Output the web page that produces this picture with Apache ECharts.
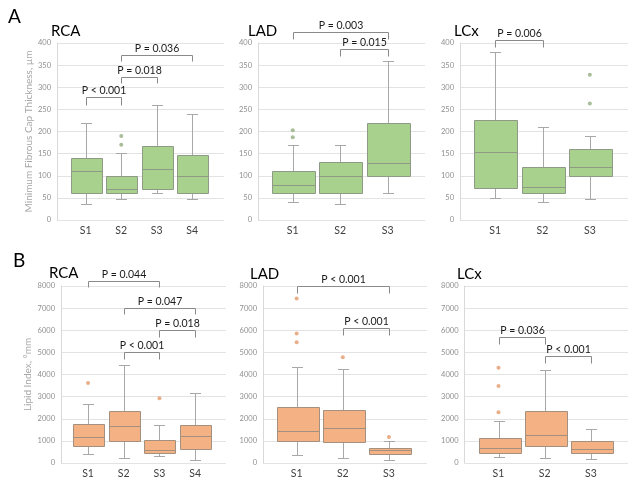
<!DOCTYPE html>
<html>
<head>
<meta charset="utf-8">
<script src="https://cdn.jsdelivr.net/npm/echarts@6/dist/echarts.min.js"></script>
<style>html,body{margin:0;padding:0;background:#fff;}#c{width:640px;height:484px;}</style>
</head>
<body>
<div id="c"></div>
<script>
// ---------- DATA ----------
const catsRCA = ['S1', 'S2', 'S3', 'S4'];
const catsLAD = ['S1', 'S2', 'S3'];
const catsLCx = ['S1', 'S2', 'S3'];
const fctTicks = [0, 50, 100, 150, 200, 250, 300, 350, 400];
const lipidTicks = [0, 1000, 2000, 3000, 4000, 5000, 6000, 7000, 8000];

// box: [min, Q1, median, Q3, max]
const fctRCA = [[36, 60, 110, 140, 220], [47, 60, 70, 100, 152], [60, 70, 115, 167, 260], [47, 60, 100, 148, 240]];
const fctRCAOut = [[1, 170], [1, 190]];
const fctLAD = [[40, 60, 80, 110, 170], [36, 60, 100, 131, 170], [60, 100, 128, 219, 360]];
const fctLADOut = [[0, 187], [0, 203]];
const fctLCx = [[49, 73, 153, 225, 380], [40, 60, 75, 120, 210], [47, 100, 120, 160, 190]];
const fctLCxOut = [[2, 263], [2, 328]];

const lipRCA = [[390, 785, 1180, 1780, 2680], [245, 995, 1690, 2350, 4420], [330, 450, 575, 1055, 1735], [120, 650, 1205, 1735, 3165]];
const lipRCAOut = [[0, 3620], [2, 2925]];
const lipLAD = [[350, 980, 1430, 2530, 4340], [245, 950, 1580, 2380, 4250], [120, 420, 575, 695, 980]];
const lipLADOut = [[0, 5460], [0, 5850], [0, 7430], [1, 4780], [2, 1180]];
const lipLCx = [[270, 450, 695, 1130, 1885], [245, 755, 1250, 2335, 4190], [180, 450, 650, 995, 1540]];
const lipLCxOut = [[0, 2290], [0, 3480], [0, 4310]];

// brackets: [fromIndex, toIndex, lineValue, tickEndValue, label]
const fctRCABr = [[0, 1, 277, 260, 'P < 0.001'], [1, 2, 324, 309, 'P = 0.018'], [1, 3, 373, 360, 'P = 0.036']];
const fctLADBr = [[0, 2, 425, 409, 'P = 0.003'], [1, 2, 386, 370, 'P = 0.015']];
const fctLCxBr = [[0, 1, 407, 391, 'P = 0.006']];
const lipRCABr = [[0, 2, 8210, 7960, 'P = 0.044'], [1, 3, 7010, 6720, 'P = 0.047'], [2, 3, 6000, 5700, 'P = 0.018'], [1, 2, 5020, 4720, 'P < 0.001']];
const lipLADBr = [[0, 2, 8020, 7690, 'P < 0.001'], [1, 2, 6100, 5770, 'P < 0.001']];
const lipLCxBr = [[0, 1, 5700, 5370, 'P = 0.036'], [1, 2, 4840, 4520, 'P < 0.001']];

const fctName = 'Minimum Fibrous Cap Thickness, µm';
const lipName = 'Lipid Index, °mm';

// ---------- STYLE / LAYOUT ----------
const GREEN = { fill: '#a9d18e', stroke: '#8e9a86', out: '#93ad80' };
const ORANGE = { fill: '#f4b183', stroke: '#a3907f', out: '#e39a6c' };
const FONT = 'Lato, "Open Sans", sans-serif';

const panels = [
  { cats: catsRCA, box: fctRCA, out: fctRCAOut, br: fctRCABr, ticks: fctTicks, col: GREEN, bg: [57, 224], fg: [68, 210], top: 43, name: fctName, gap: 22 },
  { cats: catsLAD, box: fctLAD, out: fctLADOut, br: fctLADBr, ticks: fctTicks, col: GREEN, bg: [258, 425], fg: [269, 411.5], top: 43 },
  { cats: catsLCx, box: fctLCx, out: fctLCxOut, br: fctLCxBr, ticks: fctTicks, col: GREEN, bg: [460, 628], fg: [471.5, 613.5], top: 43 },
  { cats: catsRCA, box: lipRCA, out: lipRCAOut, br: lipRCABr, ticks: lipidTicks, col: ORANGE, bg: [61, 226], fg: [70.2, 213], top: 286, name: lipName, gap: 28 },
  { cats: catsLAD, box: lipLAD, out: lipLADOut, br: lipLADBr, ticks: lipidTicks, col: ORANGE, bg: [263, 427], fg: [273.6, 412], top: 286 },
  { cats: catsLCx, box: lipLCx, out: lipLCxOut, br: lipLCxBr, ticks: lipidTicks, col: ORANGE, bg: [464.5, 628], fg: [475.4, 614], top: 286 }
];
const PH = 177;

const grid = [], xAxis = [], yAxis = [], series = [];
panels.forEach((p, k) => {
  const tmax = p.ticks[p.ticks.length - 1];
  const step = p.ticks[1] - p.ticks[0];
  const gb = 2 * k, gf = 2 * k + 1;
  grid.push({ left: p.bg[0], top: p.top, width: p.bg[1] - p.bg[0], height: PH });
  grid.push({ left: p.fg[0], top: p.top, width: p.fg[1] - p.fg[0], height: PH });
  xAxis.push({ gridIndex: gb, type: 'value', min: 0, max: 1, show: false });
  xAxis.push({
    gridIndex: gf, type: 'category', data: p.cats,
    axisLine: { show: false }, axisTick: { show: false }, splitLine: { show: false },
    axisLabel: { color: '#404040', fontSize: 10.5, margin: 5, fontFamily: FONT }
  });
  yAxis.push({
    gridIndex: gb, type: 'value', min: 0, max: tmax, interval: step,
    axisLine: { show: true, lineStyle: { color: '#d9d9d9' } }, axisTick: { show: false },
    splitLine: { lineStyle: { color: '#e3e3e3' } },
    axisLabel: { color: '#8f8f8f', fontSize: 7.5, margin: 6, fontFamily: FONT, formatter: v => String(v) },
    name: p.name || '', nameLocation: 'middle', nameGap: p.gap || 20,
    nameTextStyle: { color: '#a6a6a6', fontSize: 10, fontFamily: FONT }
  });
  yAxis.push({ gridIndex: gf, type: 'value', min: 0, max: tmax, show: false, splitLine: { show: false } });

  const col = p.col;
  series.push({
    type: 'custom', xAxisIndex: gf, yAxisIndex: gf, clip: false,
    data: p.box.map((b, i) => [i].concat(b)),
    encode: { x: 0, y: [1, 2, 3, 4, 5] },
    renderItem: function (params, api) {
      const xi = api.value(0);
      const pts = [1, 2, 3, 4, 5].map(d => api.coord([xi, api.value(d)]));
      const band = api.size([1, 0])[0];
      const bw = Math.round(band - 4.5);
      const cx = Math.round(pts[0][0]) + 0.5;
      const ymin = Math.round(pts[0][1]) + 0.5, yq1 = Math.round(pts[1][1]) + 0.5,
        ymed = Math.round(pts[2][1]) + 0.5, yq3 = Math.round(pts[3][1]) + 0.5, ymax = Math.round(pts[4][1]) + 0.5;
      const cap = 5.5;
      const wl = { stroke: '#a8a8a8', lineWidth: 1 };
      const left = Math.round(cx - bw / 2) + 0.5;
      return {
        type: 'group', children: [
          { type: 'line', shape: { x1: cx, y1: yq3, x2: cx, y2: ymax }, style: wl },
          { type: 'line', shape: { x1: cx, y1: yq1, x2: cx, y2: ymin }, style: wl },
          { type: 'line', shape: { x1: cx - cap, y1: ymax, x2: cx + cap, y2: ymax }, style: wl },
          { type: 'line', shape: { x1: cx - cap, y1: ymin, x2: cx + cap, y2: ymin }, style: wl },
          { type: 'rect', shape: { x: left, y: yq3, width: bw, height: yq1 - yq3 }, style: { fill: col.fill, stroke: col.stroke, lineWidth: 1 } },
          { type: 'line', shape: { x1: left, y1: ymed, x2: left + bw, y2: ymed }, style: { stroke: col.stroke, lineWidth: 1 } }
        ]
      };
    }
  });
  series.push({
    type: 'scatter', xAxisIndex: gf, yAxisIndex: gf, data: p.out,
    symbol: 'circle', symbolSize: 4, itemStyle: { color: col.out }, silent: true
  });
  series.push({
    type: 'custom', xAxisIndex: gf, yAxisIndex: gf, clip: false,
    data: p.br,
    encode: { x: [0, 1], y: [2, 3] },
    renderItem: function (params, api) {
      const a = api.coord([api.value(0), api.value(2)]);
      const b = api.coord([api.value(1), api.value(2)]);
      const t = api.coord([api.value(0), api.value(3)]);
      const x1 = Math.round(a[0]) + 0.5, x2 = Math.round(b[0]) + 0.5;
      const y = Math.round(a[1]) + 0.5, yt = Math.round(t[1]) + 0.5;
      const txt = p.br[params.dataIndex][4];
      return {
        type: 'group', children: [
          { type: 'polyline', shape: { points: [[x1, yt], [x1, y], [x2, y], [x2, yt]] }, style: { stroke: '#8a8a8a', lineWidth: 1, fill: null } },
          { type: 'text', style: { text: txt, x: (x1 + x2) / 2, y: y - 1.5, align: 'center', verticalAlign: 'bottom', fill: '#1a1a1a', fontSize: 10.5, fontFamily: FONT } }
        ]
      };
    }
  });
});

const tStyle = s => ({ fontSize: s, fontWeight: 'normal', color: '#000', fontFamily: FONT });
const title = [
  { text: 'A', left: 8, top: 7, textStyle: tStyle(19) },
  { text: 'RCA', left: 51, top: 24, textStyle: tStyle(15) },
  { text: 'LAD', left: 248, top: 24, textStyle: tStyle(15) },
  { text: 'LCx', left: 454, top: 24, textStyle: tStyle(15) },
  { text: 'B', left: 13, top: 251, textStyle: tStyle(19) },
  { text: 'RCA', left: 49, top: 266, textStyle: tStyle(15) },
  { text: 'LAD', left: 250, top: 267, textStyle: tStyle(15) },
  { text: 'LCx', left: 457, top: 267, textStyle: tStyle(15) }
].map(t => Object.assign({ padding: 0 }, t));

const chart = echarts.init(document.getElementById('c'), null, { renderer: 'canvas' });
chart.setOption({
  backgroundColor: '#fff',
  animation: false,
  textStyle: { fontFamily: FONT },
  title: title,
  grid: grid, xAxis: xAxis, yAxis: yAxis, series: series
});
</script>
</body>
</html>
